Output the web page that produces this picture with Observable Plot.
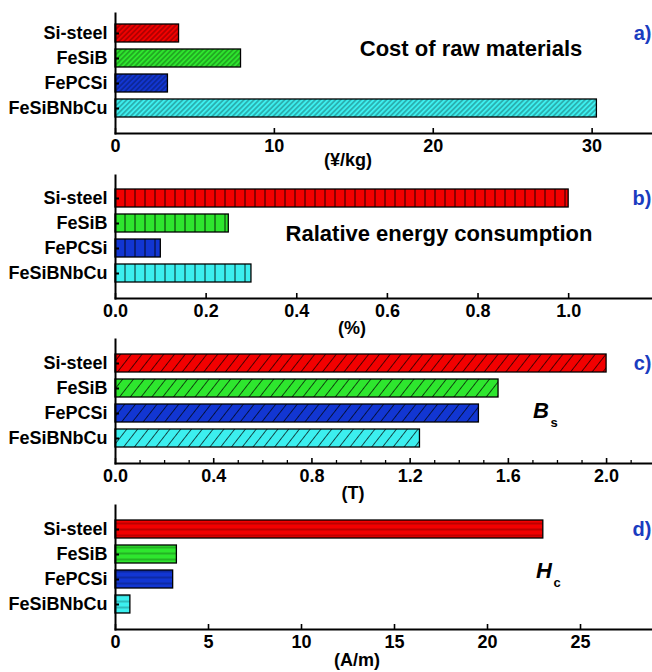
<!DOCTYPE html>
<html><head><meta charset="utf-8">
<script src="https://cdn.jsdelivr.net/npm/d3@7"></script>
<script src="https://cdn.jsdelivr.net/npm/@observablehq/plot@0.6"></script>
<style>
body{margin:0;background:#fff;}
#chart{width:652px;height:672px;overflow:hidden;}
#chart svg{display:block;}
</style></head><body><div id="chart"></div>
<script>
const materials = ["Si-steel", "FeSiB", "FePCSi", "FeSiBNbCu"];
const barColors = ["#f20000", "#2ee62e", "#1236d2", "#3cefef"];
const letterColor = "#1a3cc0";

const costValues = [4.0, 7.9, 3.3, 30.3];
const energyValues = [1.0, 0.25, 0.10, 0.30];
const bsValues = [2.0, 1.56, 1.48, 1.24];
const hcValues = [23.0, 3.3, 3.1, 0.8];

const costTicks = [0, 10, 20, 30];
const energyTicks = [0, 0.2, 0.4, 0.6, 0.8, 1.0];
const bsTicks = [0, 0.4, 0.8, 1.2, 1.6, 2.0];
const bsMinorTicks = [0.1, 0.2, 0.3, 0.5, 0.6, 0.7, 0.9, 1.0, 1.1, 1.3, 1.4, 1.5, 1.7, 1.8, 1.9, 2.1];
const hcTicks = [0, 5, 10, 15, 20, 25];

const W = 652, ML = 115;

function addPatterns(svg, id, kind) {
  const defs = d3.select(svg).insert("defs", ":first-child");
  barColors.forEach((c, i) => {
    const p = defs.append("pattern").attr("id", `${id}-p${i}`).attr("patternUnits", "userSpaceOnUse");
    if (kind === "diagDense") {
      const s = 3.6;
      p.attr("width", s).attr("height", s).attr("patternTransform", "rotate(45)");
      p.append("rect").attr("width", s).attr("height", s).attr("fill", c);
      p.append("line").attr("x1", s / 2).attr("x2", s / 2).attr("y1", 0).attr("y2", s)
        .attr("stroke", "#000").attr("stroke-opacity", 0.6).attr("stroke-width", 0.8);
    } else if (kind === "diagSparse") {
      const s = 8.5;
      p.attr("width", s).attr("height", s).attr("patternTransform", "rotate(38)");
      p.append("rect").attr("width", s).attr("height", s).attr("fill", c);
      p.append("line").attr("x1", s / 2).attr("x2", s / 2).attr("y1", 0).attr("y2", s)
        .attr("stroke", "#000").attr("stroke-opacity", 0.75).attr("stroke-width", 0.9);
    } else if (kind === "vertical") {
      const s = 10;
      p.attr("width", s).attr("height", s).attr("x", ML - 5);
      p.append("rect").attr("width", s).attr("height", s).attr("fill", c);
      p.append("line").attr("x1", 5).attr("x2", 5).attr("y1", 0).attr("y2", s)
        .attr("stroke", "#000").attr("stroke-opacity", 0.85).attr("stroke-width", 1);
    } else {
      const s = 6;
      p.attr("width", s).attr("height", s).attr("y", 0.5);
      p.append("rect").attr("width", s).attr("height", s).attr("fill", c);
      p.append("line").attr("x1", 0).attr("x2", s).attr("y1", 3).attr("y2", 3)
        .attr("stroke", "#000").attr("stroke-opacity", 0.55).attr("stroke-width", 0.8);
    }
  });
}

function panel(o) {
  const data = materials.map((m, i) => ({m, v: o.values[i], f: `url(#${o.id}-p${i})`}));
  const frameH = o.height - o.mt - o.mb;
  const marks = [
    Plot.barX(data, {y: "m", x: "v", fill: "f", stroke: "#000", strokeWidth: 1.3}),
    Plot.tickX(o.ticks, {x: d => d, insetTop: frameH - 5, stroke: "#000", strokeWidth: 1.6}),
    Plot.tickX(o.minor || [], {x: d => d, insetTop: frameH - 3, stroke: "#000", strokeWidth: 1.3}),
    Plot.tickY(materials, {y: d => d, insetRight: (W - ML) - 4, stroke: "#000", strokeWidth: 2}),
    Plot.axisX({ticks: o.ticks, tickSize: 0, tickPadding: 6, tickFormat: o.fmt, label: null}),
    Plot.axisY({tickSize: 0, tickPadding: 8, label: null}),
    Plot.frame({anchor: "left", stroke: "#000", strokeWidth: 2}),
    Plot.frame({anchor: "bottom", stroke: "#000", strokeWidth: 2}),
    Plot.text([o.letter], {text: d => d, y: () => materials[0], frameAnchor: "right", textAnchor: "end", dx: -1, fill: letterColor, fontSize: 20}),
    Plot.text([o.unit], {text: d => d, frameAnchor: "bottom", dx: o.unitDx, dy: o.unitDy, lineAnchor: "middle"})
  ];
  if (o.title) marks.push(Plot.text([o.title], {text: d => d, frameAnchor: "top", dx: o.titleDx, dy: o.titleDy, lineAnchor: "middle", fontSize: 22}));
  if (o.sym) {
    marks.push(Plot.text([o.sym], {text: d => d, frameAnchor: "top", dx: o.symDx, dy: o.symDy, lineAnchor: "middle", fontSize: 22, fontStyle: "italic"}));
    marks.push(Plot.text([o.sub], {text: d => d, frameAnchor: "top", dx: o.symDx + 13, dy: o.symDy + 12, lineAnchor: "middle", fontSize: 13}));
  }
  const svg = Plot.plot({
    width: W, height: o.height,
    marginLeft: ML, marginRight: 0, marginTop: o.mt, marginBottom: o.mb,
    style: {fontFamily: "'Liberation Sans', Arial, sans-serif", fontSize: "18px", fontWeight: "bold", color: "#000", background: "transparent", overflow: "visible"},
    x: {domain: o.domain, label: null},
    y: {domain: materials, type: "band", paddingInner: 0.3, paddingOuter: 0.15, insetTop: o.it, insetBottom: o.ib, label: null},
    color: {type: "identity"},
    marks
  });
  addPatterns(svg, o.id, o.kind);
  return svg;
}

const chart = document.getElementById("chart");
chart.append(panel({id: "pa", values: costValues, domain: [0, 33.8], ticks: costTicks, fmt: d3.format("d"),
  height: 168, mt: 13, mb: 35, it: 6, ib: 11, kind: "diagDense", letter: "a)",
  title: "Cost of raw materials", titleDx: 87, titleDy: 35,
  unit: "(¥/kg)", unitDx: -36, unitDy: 27}));
chart.append(panel({id: "pb", values: energyValues, domain: [0, 1.185], ticks: energyTicks, fmt: d3.format(".1f"),
  height: 168, mt: 7, mb: 38, it: 9, ib: 11, kind: "vertical", letter: "b)",
  title: "Ralative energy consumption", titleDx: 55, titleDy: 58,
  unit: "(%)", unitDx: -32, unitDy: 30}));
chart.append(panel({id: "pc", values: bsValues, domain: [0, 2.187], ticks: bsTicks, minor: bsMinorTicks, fmt: d3.format(".1f"),
  height: 166, mt: 3, mb: 39, it: 10, ib: 11, kind: "diagSparse", letter: "c)",
  sym: "B", sub: "s", symDx: 157, symDy: 71,
  unit: "(T)", unitDx: -31, unitDy: 30}));
chart.append(panel({id: "pd", values: hcValues, domain: [0, 28.87], ticks: hcTicks, fmt: d3.format("d"),
  height: 170, mt: 3, mb: 43, it: 11, ib: 12, kind: "horizontal", letter: "d)",
  sym: "H", sub: "c", symDx: 160, symDy: 65,
  unit: "(A/m)", unitDx: -27, unitDy: 31}));
</script></body></html>
